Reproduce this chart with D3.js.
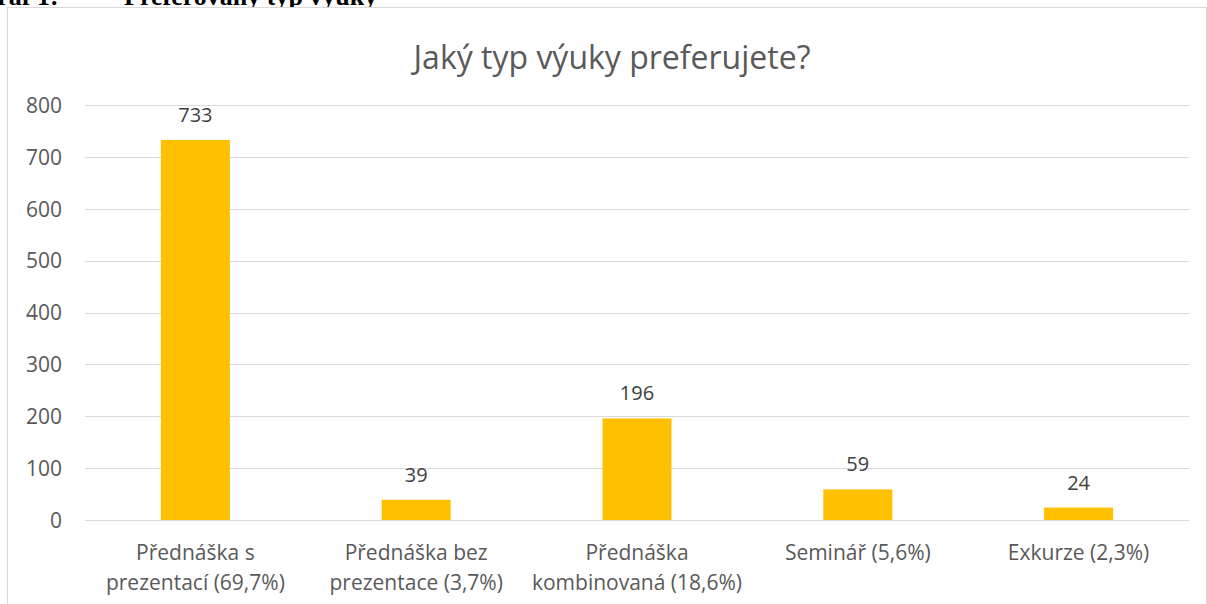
<html>
<head>
<meta charset="utf-8">
<title>Jaký typ výuky preferujete?</title>
<script src="https://cdn.jsdelivr.net/npm/d3@7"></script>
<style>
  body { margin: 0; background: #fff; }
  svg { display: block; }
  text { font-family: "Open Sans", sans-serif; }
  text.caption { font-family: "Liberation Serif", "Times New Roman", serif; font-weight: bold; font-size: 26px; }
</style>
</head>
<body>
<svg id="svg"></svg>
<script>
// data
var categories = ["Přednáška s\nprezentací (69,7%)", "Přednáška bez\nprezentace (3,7%)",
                  "Přednáška\nkombinovaná (18,6%)", "Seminář (5,6%)", "Exkurze (2,3%)"];
var values = [733, 39, 196, 59, 24];
var yTicks = [0, 100, 200, 300, 400, 500, 600, 700, 800];

var width = 1207, height = 604;

var svg = d3.select("#svg")
    .attr("width", width)
    .attr("height", height);

// document caption above the chart, mostly hidden by the crop and by the chart box
svg.append("text").attr("class", "caption")
    .attr("x", -23).attr("y", 5).attr("fill", "#000")
    .text("Graf 1:");
svg.append("text").attr("class", "caption")
    .attr("x", 124).attr("y", 5).attr("fill", "#000")
    .text("Preferovaný typ výuky");

// chart frame (white, sits on top of the caption)
svg.append("rect")
    .attr("x", 7.5).attr("y", 7.5)
    .attr("width", 1199).attr("height", 620)
    .attr("fill", "#fff")
    .attr("stroke", "#d9d9d9");

var x = d3.scaleBand()
    .domain(categories)
    .range([85, 1189])
    .padding(0);

var y = d3.scaleLinear()
    .domain([0, 800])
    .range([520, 105.3]);

// gridlines
svg.append("g")
    .selectAll("line")
    .data(yTicks)
    .enter()
    .append("line")
    .attr("x1", 85).attr("x2", 1189)
    .attr("y1", function(d){ return Math.round(y(d)) + 0.5; })
    .attr("y2", function(d){ return Math.round(y(d)) + 0.5; })
    .attr("stroke", "#d9d9d9")
    .attr("stroke-width", 1);

// y tick labels
svg.append("g")
    .selectAll("text")
    .data(yTicks)
    .enter()
    .append("text")
    .attr("x", 62)
    .attr("y", function(d){ return y(d); })
    .attr("dy", "0.36em")
    .attr("text-anchor", "end")
    .attr("fill", "#595959")
    .style("font-size", "21px")
    .text(function(d){ return d; });

// bars
var barW = x.bandwidth() * 0.3125;
svg.append("g")
    .selectAll("rect")
    .data(values)
    .enter()
    .append("rect")
    .attr("x", function(d, i){ return x(categories[i]) + (x.bandwidth() - barW) / 2; })
    .attr("y", function(d){ return y(d); })
    .attr("width", barW)
    .attr("height", function(d){ return y(0) - y(d); })
    .attr("fill", "#ffc000");

// value labels
svg.append("g")
    .selectAll("text")
    .data(values)
    .enter()
    .append("text")
    .attr("x", function(d, i){ return x(categories[i]) + x.bandwidth() / 2; })
    .attr("y", function(d){ return y(d) - 18; })
    .attr("text-anchor", "middle")
    .attr("fill", "#404040")
    .style("font-size", "20px")
    .text(function(d){ return d; });

// category labels
var cat = svg.append("g")
    .selectAll("text")
    .data(categories)
    .enter()
    .append("text")
    .attr("x", function(d){ return x(d) + x.bandwidth() / 2; })
    .attr("y", 560)
    .attr("text-anchor", "middle")
    .attr("fill", "#595959")
    .style("font-size", "21px");

cat.selectAll("tspan")
    .data(function(d){ return d.split("\n"); })
    .enter()
    .append("tspan")
    .attr("x", function(){ return d3.select(this.parentNode).attr("x"); })
    .attr("dy", function(d, i){ return i === 0 ? 0 : 30; })
    .text(function(d){ return d; });

// title
svg.append("text")
    .attr("x", 612)
    .attr("y", 69)
    .attr("text-anchor", "middle")
    .attr("fill", "#595959")
    .style("font-size", "32px")
    .text("Jaký typ výuky preferujete?");
</script>
</body>
</html>
